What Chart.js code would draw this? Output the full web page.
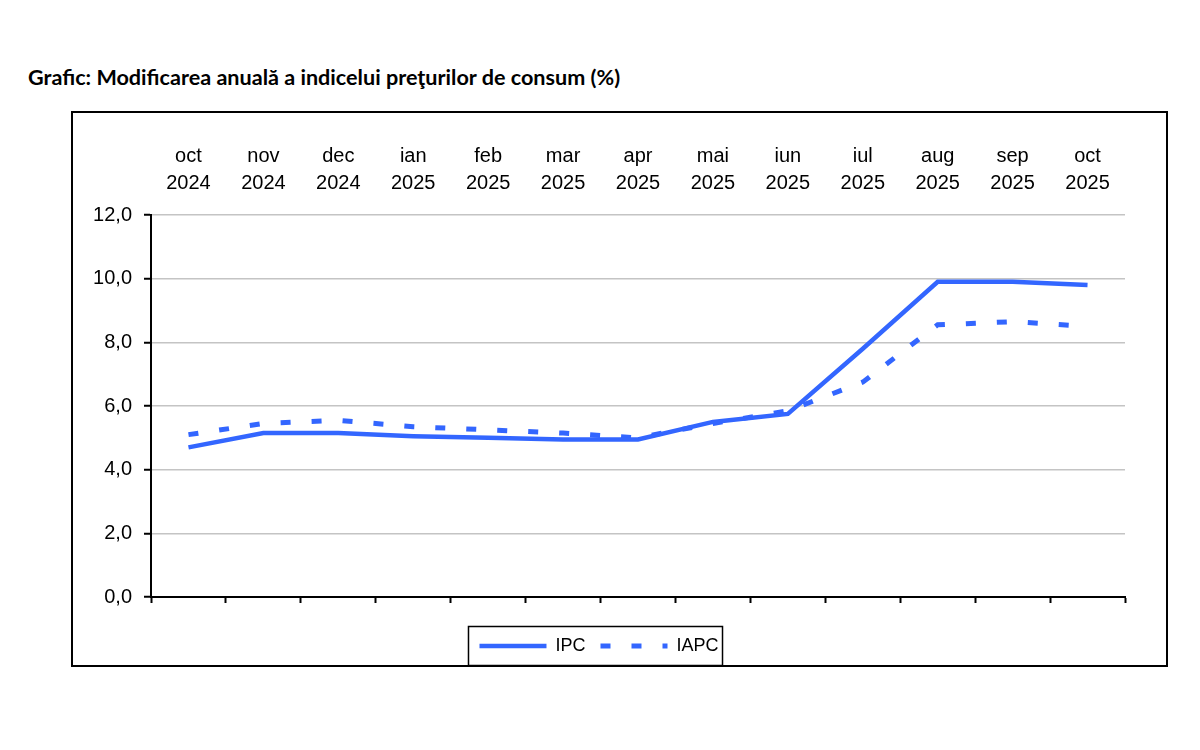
<!DOCTYPE html>
<html>
<head>
<meta charset="utf-8">
<script src="https://cdn.jsdelivr.net/npm/chart.js@4"></script>
<style>
  html, body { margin: 0; padding: 0; background: #fff; }
  body { width: 1200px; height: 750px; position: relative; overflow: hidden; }
  #title {
    position: absolute; left: 28px; top: 64px;
    font-family: Lato, "Open Sans", sans-serif; font-weight: 700; font-size: 21.6px;
    color: #000; white-space: nowrap;
  }
  #frame {
    position: absolute; left: 71px; top: 111px; width: 1097px; height: 556px;
    border: 2px solid #000; box-sizing: border-box;
  }
  #wrap { position: relative; width: 1093px; height: 552px; }
</style>
</head>
<body>
<div id="title">Grafic: Modificarea anuală a indicelui preţurilor de consum (%)</div>
<div id="frame"><div id="wrap"><canvas id="cpiChart"></canvas></div></div>
<script>
// === Data ===
const MONTHS = ["oct", "nov", "dec", "ian", "feb", "mar", "apr", "mai", "iun", "iul", "aug", "sep", "oct"];
const YEARS = ["2024", "2024", "2024", "2025", "2025", "2025", "2025", "2025", "2025", "2025", "2025", "2025", "2025"];
const IPC = [4.7, 5.15, 5.15, 5.05, 5.0, 4.95, 4.95, 5.5, 5.75, 7.8, 9.9, 9.9, 9.8];
const IAPC = [5.1, 5.45, 5.55, 5.35, 5.25, 5.15, 5.0, 5.45, 5.85, 6.75, 8.55, 8.65, 8.5];
const Y_TICKS = [0, 2, 4, 6, 8, 10, 12];

const labels = MONTHS.map((m, i) => [m, YEARS[i]]);
const BLUE = "#3366ff";
const FONT = "'Liberation Sans', Arial, sans-serif";

// frame around the legend, like the boxed legend in the original
const legendFrame = {
  id: "legendFrame",
  afterDraw(chart) {
    const boxes = chart.legend && chart.legend.legendHitBoxes;
    if (!boxes || !boxes.length) return;
    const first = boxes[0];
    const last = boxes[boxes.length - 1];
    const cy = first.top + first.height / 2;
    const ctx = chart.ctx;
    ctx.save();
    ctx.strokeStyle = "#000";
    ctx.lineWidth = 1.5;
    ctx.strokeRect(first.left - 11, cy - 19.5, last.left + last.width + 4 - (first.left - 11), 39);
    ctx.restore();
  }
};

new Chart(document.getElementById("cpiChart"), {
  type: "line",
  data: {
    labels,
    datasets: [
      {
        label: "IPC", data: IPC, borderColor: BLUE, backgroundColor: BLUE,
        borderWidth: 4.5, pointRadius: 0, tension: 0, borderCapStyle: "butt"
      },
      {
        label: "IAPC", data: IAPC, borderColor: BLUE, backgroundColor: BLUE,
        borderWidth: 5, borderDash: [10, 21], pointRadius: 0, tension: 0, borderCapStyle: "butt"
      }
    ]
  },
  options: {
    responsive: true,
    maintainAspectRatio: false,
    animation: false,
    layout: { padding: { left: 0, right: 41, top: 0, bottom: 0 } },
    plugins: {
      tooltip: { enabled: false },
      legend: {
        position: "bottom",
        labels: {
          boxWidth: 67, boxHeight: 0, padding: 15, color: "#000",
          font: { family: FONT, size: 18 }
        }
      }
    },
    scales: {
      x: {
        type: "category",
        position: "bottom",
        offset: true,
        grid: { display: true, drawOnChartArea: false, offset: true, tickLength: 6, tickColor: "#000", tickWidth: 2 },
        border: { display: true, color: "#000", width: 2 },
        ticks: { display: false },
        afterFit: (s) => { s.height = 25; }
      },
      x2: {
        type: "category",
        position: "top",
        labels,
        offset: true,
        grid: { display: false },
        border: { display: false },
        ticks: {
          color: "#000", padding: 10, maxRotation: 0, autoSkip: false,
          font: { family: FONT, size: 20, lineHeight: 1.35 }
        },
        afterFit: (s) => { s.height = 102; }
      },
      y: {
        min: 0, max: 12,
        afterBuildTicks: (s) => { s.ticks = Y_TICKS.map((v) => ({ value: v })); },
        grid: { color: "#c4c4c4", lineWidth: 1.5, tickLength: 7, tickColor: "#000", tickWidth: 2 },
        border: { display: true, color: "#000", width: 2 },
        ticks: {
          color: "#000", padding: 12,
          font: { family: FONT, size: 20 },
          callback: (v) => Number(v).toFixed(1).replace(".", ",")
        },
        afterFit: (s) => { s.width = 78; }
      }
    }
  },
  plugins: [legendFrame]
});
</script>
</body>
</html>
